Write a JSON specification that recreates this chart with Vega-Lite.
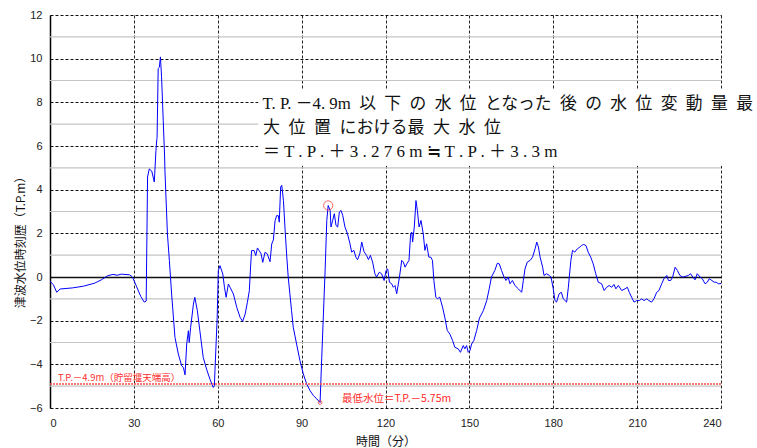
{
  "$schema": "https://vega.github.io/schema/vega-lite/v6.json",
  "width": 671,
  "height": 393,
  "autosize": {"type": "none"},
  "padding": {"left": 50, "top": 15, "right": 36, "bottom": 40},
  "background": "white",
  "config": {"view": {"stroke": null}},
  "datasets": {
    "series": [
      {"t":0,"v":-0.2},{"t":1.2,"v":-0.35},{"t":2.4,"v":-0.7},{"t":3.6,"v":-0.55},{"t":8,"v":-0.5},{"t":12,"v":-0.42},{"t":16,"v":-0.28},{"t":18.5,"v":-0.12},{"t":20.5,"v":0.05},{"t":22.5,"v":0.12},{"t":24,"v":0.08},{"t":25.5,"v":0.13},{"t":28.5,"v":0.1},{"t":29.5,"v":0.0},{"t":31,"v":-0.45},{"t":32.5,"v":-0.9},{"t":33.7,"v":-1.15},{"t":34.4,"v":-1.1},{"t":34.9,"v":4.58},{"t":35.5,"v":4.95},{"t":36.4,"v":4.85},{"t":37.3,"v":4.35},{"t":37.9,"v":5.8},{"t":38.2,"v":6.3},{"t":38.3,"v":6.4},{"t":38.7,"v":9.55},{"t":39.1,"v":9.6},{"t":39.5,"v":10.08},{"t":39.9,"v":9.17},{"t":40.5,"v":7.18},{"t":41.0,"v":5.5},{"t":41.1,"v":4.9},{"t":42.0,"v":1.97},{"t":42.7,"v":0.75},{"t":43.5,"v":-0.78},{"t":44.7,"v":-2.77},{"t":45.9,"v":-3.53},{"t":47.1,"v":-4.07},{"t":47.7,"v":-4.14},{"t":48.3,"v":-4.48},{"t":48.9,"v":-3.07},{"t":49.5,"v":-2.46},{"t":49.8,"v":-3.0},{"t":50.3,"v":-2.31},{"t":51.3,"v":-1.24},{"t":51.8,"v":-0.93},{"t":52.7,"v":-1.54},{"t":53.6,"v":-2.46},{"t":54.8,"v":-3.68},{"t":56.0,"v":-4.22},{"t":57.2,"v":-4.68},{"t":58.4,"v":-5.06},{"t":58.8,"v":-4.98},{"t":59.0,"v":-4.3},{"t":59.8,"v":-1.85},{"t":60.2,"v":0.29},{"t":60.8,"v":0.52},{"t":61.8,"v":0.14},{"t":62.4,"v":-0.47},{"t":63.0,"v":-0.93},{"t":63.8,"v":-0.32},{"t":64.4,"v":-0.47},{"t":65.6,"v":-0.78},{"t":66.8,"v":-1.39},{"t":68.0,"v":-1.85},{"t":68.9,"v":-2.03},{"t":69.8,"v":-1.7},{"t":70.6,"v":-1.16},{"t":71.3,"v":-0.63},{"t":71.8,"v":0.6},{"t":72.1,"v":1.21},{"t":73.0,"v":1.21},{"t":73.6,"v":0.98},{"t":74.2,"v":1.33},{"t":74.8,"v":1.21},{"t":75.5,"v":1.06},{"t":76.1,"v":0.67},{"t":76.9,"v":1.13},{"t":77.7,"v":1.06},{"t":78.7,"v":0.7},{"t":79.3,"v":1.51},{"t":79.9,"v":1.7},{"t":80.5,"v":2.58},{"t":81.1,"v":2.82},{"t":81.7,"v":2.8},{"t":82.0,"v":2.51},{"t":82.5,"v":4.12},{"t":82.9,"v":4.2},{"t":83.5,"v":3.5},{"t":84.1,"v":2.13},{"t":84.7,"v":0.91},{"t":85.2,"v":0.0},{"t":85.8,"v":-0.77},{"t":86.4,"v":-1.54},{"t":87.0,"v":-2.3},{"t":88.2,"v":-3.07},{"t":89.4,"v":-3.83},{"t":90.6,"v":-4.44},{"t":91.8,"v":-4.9},{"t":93.0,"v":-5.2},{"t":94.2,"v":-5.43},{"t":95.4,"v":-5.58},{"t":96.6,"v":-5.75},{"t":97.2,"v":-3.68},{"t":97.8,"v":-1.69},{"t":98.4,"v":0.3},{"t":99.0,"v":2.59},{"t":99.5,"v":3.276},{"t":100.2,"v":3.05},{"t":100.5,"v":2.29},{"t":101.1,"v":2.59},{"t":101.7,"v":2.9},{"t":102.3,"v":2.36},{"t":102.9,"v":2.29},{"t":103.5,"v":2.98},{"t":104.1,"v":3.05},{"t":104.7,"v":2.82},{"t":105.5,"v":2.29},{"t":106.4,"v":1.98},{"t":107.3,"v":1.52},{"t":107.9,"v":1.14},{"t":108.7,"v":1.22},{"t":109.4,"v":0.91},{"t":110.0,"v":0.79},{"t":110.8,"v":1.06},{"t":111.5,"v":1.6},{"t":112.3,"v":1.17},{"t":113.2,"v":0.99},{"t":113.9,"v":0.8},{"t":114.6,"v":0.99},{"t":115.4,"v":0.68},{"t":116.2,"v":0.15},{"t":116.8,"v":0.0},{"t":117.8,"v":0.22},{"t":118.6,"v":0.15},{"t":119.5,"v":-0.16},{"t":120.2,"v":0.3},{"t":120.8,"v":0.37},{"t":121.4,"v":-0.24},{"t":122.2,"v":-0.31},{"t":122.8,"v":-0.47},{"t":123.4,"v":-0.39},{"t":124.0,"v":-0.77},{"t":125.0,"v":0.0},{"t":125.8,"v":0.76},{"t":126.4,"v":0.68},{"t":127.0,"v":0.45},{"t":127.6,"v":0.6},{"t":128.4,"v":0.76},{"t":129.0,"v":1.98},{"t":129.4,"v":2.06},{"t":129.7,"v":1.6},{"t":130.3,"v":2.29},{"t":130.9,"v":3.5},{"t":131.4,"v":3.05},{"t":132.0,"v":2.29},{"t":132.7,"v":2.59},{"t":133.5,"v":1.98},{"t":134.1,"v":1.22},{"t":134.7,"v":1.52},{"t":135.5,"v":0.91},{"t":136.2,"v":0.91},{"t":136.8,"v":0.76},{"t":137.3,"v":-0.16},{"t":138.0,"v":-0.92},{"t":138.6,"v":-1.0},{"t":139.4,"v":-0.92},{"t":140.4,"v":-1.38},{"t":141.2,"v":-1.84},{"t":142.1,"v":-2.45},{"t":143.0,"v":-2.61},{"t":144.0,"v":-2.91},{"t":144.8,"v":-3.22},{"t":146.0,"v":-3.29},{"t":146.8,"v":-3.45},{"t":147.8,"v":-3.14},{"t":148.4,"v":-3.29},{"t":149.0,"v":-3.14},{"t":149.6,"v":-3.45},{"t":150.2,"v":-3.37},{"t":150.8,"v":-3.07},{"t":151.6,"v":-2.91},{"t":152.6,"v":-2.45},{"t":153.6,"v":-1.88},{"t":155.0,"v":-1.54},{"t":156.2,"v":-1.08},{"t":157.1,"v":-0.54},{"t":157.9,"v":0.0},{"t":159.1,"v":0.3},{"t":160.0,"v":0.63},{"t":160.7,"v":0.6},{"t":161.5,"v":0.3},{"t":162.4,"v":0.0},{"t":163.1,"v":-0.16},{"t":163.9,"v":0.0},{"t":164.5,"v":-0.31},{"t":165.4,"v":-0.16},{"t":166.3,"v":-0.39},{"t":167.5,"v":-0.54},{"t":168.7,"v":-0.7},{"t":169.3,"v":-0.16},{"t":169.9,"v":0.37},{"t":170.7,"v":0.68},{"t":171.7,"v":0.76},{"t":172.6,"v":0.91},{"t":173.5,"v":1.29},{"t":174.1,"v":1.6},{"t":174.7,"v":1.37},{"t":175.3,"v":0.91},{"t":176.2,"v":0.45},{"t":176.7,"v":0.07},{"t":177.6,"v":0.15},{"t":178.6,"v":0.07},{"t":179.2,"v":0.0},{"t":180.0,"v":-0.54},{"t":180.6,"v":-1.08},{"t":181.2,"v":-1.15},{"t":182.1,"v":-0.77},{"t":182.9,"v":-0.7},{"t":183.6,"v":-1.0},{"t":184.8,"v":-1.15},{"t":185.4,"v":-0.47},{"t":186.3,"v":0.76},{"t":186.9,"v":1.22},{"t":187.7,"v":1.14},{"t":188.6,"v":1.29},{"t":189.5,"v":1.37},{"t":190.1,"v":1.44},{"t":190.9,"v":1.49},{"t":191.7,"v":1.44},{"t":192.5,"v":1.14},{"t":193.4,"v":0.91},{"t":194.3,"v":0.6},{"t":195.2,"v":0.15},{"t":196.1,"v":-0.24},{"t":197.3,"v":-0.31},{"t":198.2,"v":-0.62},{"t":199.1,"v":-0.47},{"t":200.0,"v":-0.39},{"t":200.9,"v":-0.47},{"t":201.7,"v":-0.34},{"t":202.4,"v":-0.54},{"t":203.3,"v":-0.39},{"t":204.5,"v":-0.62},{"t":205.7,"v":-0.54},{"t":206.5,"v":-0.47},{"t":207.2,"v":-0.7},{"t":208.0,"v":-0.92},{"t":208.9,"v":-1.15},{"t":209.8,"v":-1.08},{"t":210.8,"v":-1.08},{"t":211.6,"v":-1.0},{"t":212.5,"v":-1.08},{"t":213.4,"v":-1.0},{"t":214.2,"v":-1.08},{"t":215.2,"v":-1.15},{"t":216.0,"v":-1.0},{"t":217.0,"v":-0.7},{"t":217.8,"v":-0.62},{"t":218.8,"v":-0.31},{"t":219.6,"v":-0.08},{"t":220.6,"v":0.07},{"t":221.2,"v":-0.16},{"t":222.0,"v":-0.16},{"t":222.7,"v":0.0},{"t":223.6,"v":0.45},{"t":224.4,"v":0.3},{"t":225.3,"v":0.07},{"t":226.3,"v":0.0},{"t":227.1,"v":0.02},{"t":228.3,"v":0.07},{"t":229.1,"v":0.15},{"t":229.9,"v":0.0},{"t":230.7,"v":-0.13},{"t":231.5,"v":0.15},{"t":232.5,"v":0.0},{"t":233.3,"v":-0.08},{"t":234.3,"v":-0.31},{"t":235.1,"v":-0.24},{"t":235.8,"v":-0.08},{"t":236.7,"v":-0.16},{"t":237.6,"v":-0.24},{"t":238.3,"v":-0.24},{"t":239.1,"v":-0.31},{"t":240,"v":-0.3}
    ],
    "markers": [
      {"t":96.6,"v":-5.75,"kind":"min"},
      {"t":99.5,"v":3.276,"kind":"max"}
    ],
    "minorGrid": [
      {"v":-5},{"v":-3},{"v":-1},{"v":1},{"v":3},{"v":5},{"v":7},{"v":9},{"v":11}
    ]
  },
  "layer": [
    {
      "data": {"name": "minorGrid"},
      "mark": {"type": "rule", "color": "#c4c4c4", "strokeWidth": 1.2},
      "encoding": {
        "y": {
          "field": "v", "type": "quantitative",
          "scale": {"domain": [-6, 12], "nice": false, "zero": false},
          "axis": {
            "values": [-6,-4,-2,0,2,4,6,8,10,12],
            "format": "d",
            "grid": true,
            "gridColor": "#111",
            "gridDash": {"condition": {"test": "datum.value === 0", "value": [1,0]}, "value": [3,2]},
            "gridWidth": {"condition": {"test": "datum.value === 0", "value": 1.5}, "value": 1},
            "domain": true, "domainColor": "#000", "domainWidth": 1.5,
            "ticks": false,
            "labelPadding": 8, "labelFont": "Liberation Sans", "labelFontSize": 11, "labelColor": "#222",
            "title": "津波水位時刻歴（T.P.m）", "titleFont": "Noto Sans CJK JP", "titleFontSize": 12, "titleFontWeight": "normal", "titleColor": "#111",
            "titleX": -30, "titleY": 224, "titleAngle": -90, "titleBaseline": "middle", "titleAlign": "center"
          }
        }
      }
    },
    {
      "data": {"name": "series"},
      "mark": {"type": "line", "color": "#0000ff", "strokeWidth": 1, "interpolate": "linear"},
      "encoding": {
        "x": {
          "field": "t", "type": "quantitative",
          "scale": {"domain": [0, 240], "nice": false, "zero": false},
          "axis": {
            "values": [0,30,60,90,120,150,180,210,240],
            "format": "d",
            "grid": true, "gridColor": "#222", "gridDash": [3,2], "gridWidth": 1,
            "domain": false, "ticks": false,
            "labelPadding": 9, "labelFont": "Liberation Sans", "labelFontSize": 11, "labelColor": "#222",
            "title": "時間（分）", "titleFont": "Noto Sans CJK JP", "titleFontSize": 12, "titleFontWeight": "normal", "titleColor": "#111", "titlePadding": 8
          }
        },
        "y": {"field": "v", "type": "quantitative"}
      }
    },
    {
      "data": {"values": [{}]},
      "mark": {"type": "rule", "color": "#ff4d4d", "strokeWidth": 1.5, "strokeDash": [2,1]},
      "encoding": {"y": {"datum": -4.9, "type": "quantitative"}}
    },
    {
      "data": {"name": "markers"},
      "transform": [{"filter": "datum.kind === 'min'"}],
      "mark": {"type": "point", "shape": "circle", "filled": false, "color": "#ff2020", "size": 14, "strokeWidth": 1},
      "encoding": {"x": {"field": "t", "type": "quantitative"}, "y": {"field": "v", "type": "quantitative"}}
    },
    {
      "data": {"name": "markers"},
      "transform": [{"filter": "datum.kind === 'max'"}],
      "mark": {"type": "point", "shape": "circle", "filled": false, "color": "#ff2020", "size": 85, "strokeWidth": 1},
      "encoding": {"x": {"field": "t", "type": "quantitative"}, "y": {"field": "v", "type": "quantitative"}}
    },
    {
      "data": {"values": [{}]},
      "mark": {"type": "text", "text": "T.P.－4.9m（貯留堰天端高）", "align": "left", "baseline": "middle", "font": "Noto Sans CJK JP", "fontSize": 9.5, "color": "#ff3030"},
      "encoding": {"x": {"datum": 2.9, "type": "quantitative"}, "y": {"datum": -4.62, "type": "quantitative"}}
    },
    {
      "data": {"values": [{}]},
      "mark": {"type": "text", "text": "最低水位＝T.P.－5.75m", "align": "left", "baseline": "middle", "font": "Noto Sans CJK JP", "fontSize": 10.5, "color": "#ff2a2a"},
      "encoding": {"x": {"datum": 104.4, "type": "quantitative"}, "y": {"datum": -5.59, "type": "quantitative"}}
    },
    {
      "data": {"values": [{}]},
      "mark": {"type": "rect", "color": "white", "clip": false},
      "encoding": {
        "x": {"datum": 74.5, "type": "quantitative"}, "x2": {"datum": 253},
        "y": {"datum": 8.6, "type": "quantitative"}, "y2": {"datum": 5.1}
      }
    },
    {
      "data": {"values": [{}]},
      "mark": {"type": "text", "text": "T. P. －4. 9m\u2002以\u2002下\u2002の\u2002水\u2002位\u2002となった\u2002後\u2002の\u2002水\u2002位\u2002変\u2002動\u2002量\u2002最", "align": "left", "baseline": "middle", "font": "Liberation Serif, Noto Sans CJK JP", "fontSize": 16.8, "color": "#111"},
      "encoding": {"x": {"datum": 76.0, "type": "quantitative"}, "y": {"datum": 7.91, "type": "quantitative"}}
    },
    {
      "data": {"values": [{}]},
      "mark": {"type": "text", "text": "大\u2002位\u2002置\u2002における最\u2002大\u2002水\u2002位", "align": "left", "baseline": "middle", "font": "Liberation Serif, Noto Sans CJK JP", "fontSize": 17, "color": "#111"},
      "encoding": {"x": {"datum": 76.2, "type": "quantitative"}, "y": {"datum": 6.81, "type": "quantitative"}}
    },
    {
      "data": {"values": [{}]},
      "mark": {"type": "text", "text": "＝ T . P . ＋ 3 . 2 7 6 m ≒ T . P . ＋ 3 . 3 m", "align": "left", "baseline": "middle", "font": "Liberation Serif, Noto Sans CJK JP", "fontSize": 17, "color": "#111"},
      "encoding": {"x": {"datum": 76.2, "type": "quantitative"}, "y": {"datum": 5.71, "type": "quantitative"}}
    }
  ]
}
